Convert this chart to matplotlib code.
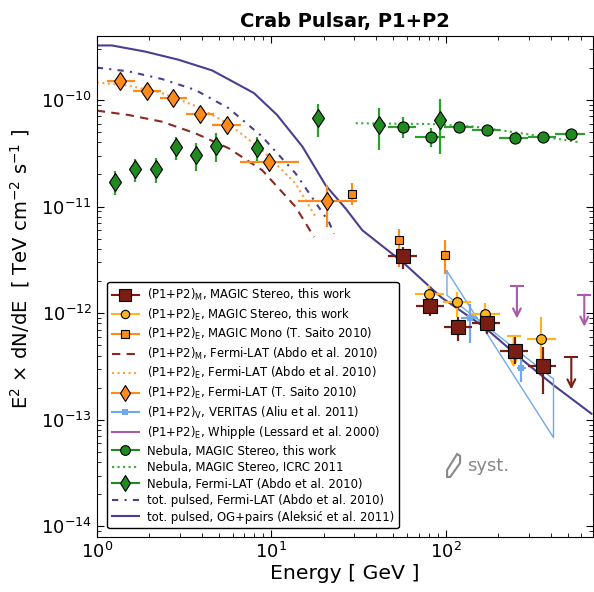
import numpy as np
import matplotlib
matplotlib.use('Agg')
import matplotlib.pyplot as plt
from matplotlib.lines import Line2D
from matplotlib.patches import Polygon

# --- (P1+P2)_M, MAGIC Stereo, this work
m_e = [56.6, 81.5, 118, 172, 248, 359]
m_elo = [46.5, 67.4, 98.3, 142, 205, 298]
m_ehi = [68.4, 98.3, 142, 206, 298, 430]
m_f = [3.40e-12, 1.17e-12, 7.43e-13, 8.16e-13, 4.45e-13, 3.21e-13]
m_flo = [2.61e-12, 9.48e-13, 5.52e-13, 6.38e-13, 3.33e-13, 1.74e-13]
m_fhi = [4.17e-12, 1.41e-12, 9.29e-13, 1.02e-12, 5.93e-13, 4.78e-13]
m_ul_e = [525]
m_ul_f = [3.85e-13]

# --- (P1+P2)_E, MAGIC Stereo, this work
e_e = [80.2, 116, 168, 354]
e_elo = [66.6, 96.1, 139, 293]
e_ehi = [97.4, 140, 206, 430]
e_f = [1.52e-12, 1.27e-12, 9.85e-13, 5.69e-13]
e_flo = [1.27e-12, 9.16e-13, 8.51e-13, 3.58e-13]
e_fhi = [1.82e-12, 1.57e-12, 1.24e-12, 9.16e-13]
e_ul_e = [245]
e_ul_f = [6.15e-13]

# --- (P1+P2)_E, MAGIC Mono (T. Saito 2010)
mono_e = [29.2, 54.1, 99.5]
mono_f = [1.32e-11, 4.9e-12, 3.53e-12]
mono_flo = [1.03e-11, 2.7e-12, 2.35e-12]
mono_fhi = [1.65e-11, 6.2e-12, 4.82e-12]

# --- (P1+P2)_E, Fermi-LAT (T. Saito 2010)
s_e = [1.36, 1.94, 2.73, 3.89, 5.54, 9.65, 20.9]
s_elo = [1.14, 1.62, 2.31, 3.26, 4.6, 6.6, 14.2]
s_ehi = [1.65, 2.33, 3.29, 4.68, 6.7, 14.4, 31.1]
s_f = [1.49e-10, 1.22e-10, 1.04e-10, 7.4e-11, 5.86e-11, 2.61e-11, 1.12e-11]
s_flo = [1.40e-10, 1.15e-10, 0.97e-10, 6.9e-11, 5.4e-11, 2.19e-11, 6.45e-12]
s_fhi = [1.58e-10, 1.30e-10, 1.11e-10, 7.9e-11, 6.3e-11, 2.93e-11, 1.59e-11]

# --- (P1+P2)_V, VERITAS (Aliu et al. 2011)
v_e = [137, 172, 271]
v_elo = [122, 155, 255]
v_ehi = [153, 190, 290]
v_f = [9.03e-13, 8.6e-13, 3.05e-13]
v_flo = [5.21e-13, 7.2e-13, 2.24e-13]
v_fhi = [1.22e-12, 1.0e-12, 3.71e-13]
bow_e = [101.7, 415, 415, 101.7, 101.7]
bow_f = [2.48e-12, 6.8e-14, 2.41e-13, 1.47e-12, 2.48e-12]

# --- (P1+P2)_E, Whipple (Lessard et al. 2000) upper limits
wh_e = [256, 623]
wh_f = [1.78e-12, 1.49e-12]

# --- Nebula, MAGIC Stereo, this work
nm_e = [56.9, 82.4, 119, 172, 249, 361, 523]
nm_elo = [46.5, 66.6, 98, 141, 202, 295, 426]
nm_ehi = [67.6, 99, 143, 206, 295, 430, 625]
nm_f = [5.61e-11, 4.49e-11, 5.61e-11, 5.22e-11, 4.41e-11, 4.51e-11, 4.79e-11]
nm_flo = [4.4e-11, 3.6e-11, 5.2e-11, 4.95e-11, 4.2e-11, 4.3e-11, 4.55e-11]
nm_fhi = [6.9e-11, 5.4e-11, 6.0e-11, 5.5e-11, 4.6e-11, 4.7e-11, 5.0e-11]

# --- Nebula, MAGIC Stereo, ICRC 2011
icrc_e = [30.5, 82.3, 146, 258, 584]
icrc_f = [6.04e-11, 5.94e-11, 5.61e-11, 4.93e-11, 4.0e-11]

# --- Nebula, Fermi-LAT (Abdo et al. 2010)
nf_e = [1.27, 1.66, 2.17, 2.83, 3.71, 4.83, 8.27, 18.5, 41.5, 92.3]
nf_f = [1.69e-11, 2.23e-11, 2.23e-11, 3.59e-11, 3.02e-11, 3.71e-11, 3.51e-11,
        6.73e-11, 5.82e-11, 6.49e-11]
nf_flo = [1.28e-11, 1.69e-11, 1.67e-11, 2.73e-11, 2.16e-11, 2.59e-11, 2.54e-11,
          4.46e-11, 3.39e-11, 3.08e-11]
nf_fhi = [2.15e-11, 2.77e-11, 2.86e-11, 4.46e-11, 3.92e-11, 4.86e-11, 4.46e-11,
          9.17e-11, 8.35e-11, 1.02e-10]

# --- Fermi-LAT model curves (Abdo et al. 2010)
fm_e = [1.0, 1.52, 2.36, 3.67, 5.70, 8.87, 13.8, 17.6]
fm_f = [7.93e-11, 7.22e-11, 6.25e-11, 4.86e-11, 3.52e-11, 2.19e-11, 9.91e-12, 5.17e-12]
fe_e = [1.0, 1.52, 2.36, 3.67, 5.70, 8.87, 13.8, 18.0]
fe_f = [1.46e-10, 1.36e-10, 1.16e-10, 8.78e-11, 5.95e-11, 3.38e-11, 1.64e-11, 7.97e-12]
ftot_e = [1.0, 1.52, 2.36, 3.67, 5.70, 8.87, 13.8, 21.4, 22.9]
ftot_f = [2.01e-10, 1.85e-10, 1.57e-10, 1.24e-10, 8.35e-11, 4.52e-11, 2.04e-11,
          7.16e-12, 5.57e-12]

# --- tot. pulsed, OG+pairs (Aleksic et al. 2011)
og_e = [1.0, 1.22, 1.89, 2.94, 4.58, 7.95, 10.8, 15.1, 20.5, 26.7, 33.3, 56.7,
        94.1, 167, 271, 420, 685]
og_f = [3.24e-10, 3.24e-10, 2.84e-10, 2.38e-10, 1.89e-10, 1.16e-10, 7.22e-11,
        3.64e-11, 1.58e-11, 9.57e-12, 5.98e-12, 3.01e-12, 1.41e-12, 7.37e-13,
        3.71e-13, 2.08e-13, 1.14e-13]

x_ticks = [1, 10, 100]
y_ticks = [1e-14, 1e-13, 1e-12, 1e-11, 1e-10]

C_M = '#7a1d14'
C_E = '#ffb31f'
C_MONO = '#ff8a1c'
C_FE = '#ff9c40'
C_V = '#6fa8ec'
C_WH = '#a95aa8'
C_NEB = '#1f8a1f'
C_NEBL = '#2e9e2e'
C_TOT = '#4a3e8e'


def err(v, lo, hi):
    v, lo, hi = np.asarray(v), np.asarray(lo), np.asarray(hi)
    return [v - lo, hi - v]


def upper_limit(ax, e, f, color):
    for x, y in zip(e, f):
        ax.annotate('', xy=(x, y * 0.5), xytext=(x, y),
                    arrowprops=dict(arrowstyle='->', color=color, lw=1.5,
                                    mutation_scale=14, shrinkA=0, shrinkB=0))
        ax.plot([x], [y], marker='_', ms=10, mew=1.5, color=color)


fig = plt.figure(figsize=(5.94, 5.92), dpi=100)
ax = fig.add_axes([0.163, 0.0934, 0.8355, 0.8463])
ax.set_xscale('log')
ax.set_yscale('log')

# model curves
ax.plot(og_e, og_f, '-', color=C_TOT, lw=1.5, zorder=2)
ax.plot(ftot_e, ftot_f, color=C_TOT, lw=1.5, dashes=(3, 3, 1, 3), zorder=2)
ax.plot(fm_e, fm_f, '--', color='#8b2a20', lw=1.5, dashes=(4, 3), zorder=2)
ax.plot(fe_e, fe_f, ':', color=C_FE, lw=1.5, zorder=2)
ax.plot(icrc_e, icrc_f, ':', color='#3aa83a', lw=1.5, zorder=2)

# VERITAS bow-tie
ax.plot(bow_e, bow_f, '-', color=C_V, lw=1.0, zorder=2)

ebkw = dict(capsize=0, elinewidth=1.6, lw=0, markeredgecolor='black',
            markeredgewidth=0.8, zorder=4)

ax.errorbar(nf_e, nf_f, yerr=err(nf_f, nf_flo, nf_fhi), fmt='d', ms=9.5,
            color=C_NEB, ecolor=C_NEBL, **ebkw)
ax.errorbar(nm_e, nm_f, xerr=err(nm_e, nm_elo, nm_ehi),
            yerr=err(nm_f, nm_flo, nm_fhi), fmt='o', ms=8,
            color=C_NEB, ecolor=C_NEBL, **ebkw)
ax.errorbar(s_e, s_f, xerr=err(s_e, s_elo, s_ehi),
            yerr=err(s_f, s_flo, s_fhi), fmt='d', ms=9.5,
            color=C_MONO, ecolor=C_MONO, **ebkw)
ax.errorbar(mono_e, mono_f, yerr=err(mono_f, mono_flo, mono_fhi), fmt='s',
            ms=6, color=C_MONO, ecolor=C_MONO, **ebkw)
ax.errorbar(v_e, v_f, xerr=err(v_e, v_elo, v_ehi),
            yerr=err(v_f, v_flo, v_fhi), fmt='s', ms=4, color=C_V,
            ecolor=C_V, capsize=0, elinewidth=1.6, lw=0, mew=0, zorder=3)
ax.errorbar(e_e, e_f, xerr=err(e_e, e_elo, e_ehi),
            yerr=err(e_f, e_flo, e_fhi), fmt='o', ms=7,
            color=C_E, ecolor=C_E, **ebkw)
ax.errorbar(m_e, m_f, xerr=err(m_e, m_elo, m_ehi),
            yerr=err(m_f, m_flo, m_fhi), fmt='s', ms=10,
            color=C_M, ecolor=C_M, **ebkw)

upper_limit(ax, wh_e, wh_f, C_WH)
upper_limit(ax, m_ul_e, m_ul_f, C_M)
upper_limit(ax, e_ul_e, e_ul_f, C_E)

# systematics marker
syst_px = [(447, 477), (447, 470), (457, 454), (460, 456), (460, 463), (450, 477)]
syst = [((x - 96.7) / 496.3, (536.7 - y) / 501.0) for x, y in syst_px]
ax.add_patch(Polygon(syst, closed=True, fill=False, edgecolor='#888888',
                     lw=1.5, transform=ax.transAxes))
ax.text(0.746, 0.141, 'syst.', transform=ax.transAxes, color='#888888',
        fontsize=13, va='center', ha='left')

ax.set_xticks(x_ticks)
ax.set_yticks(y_ticks)
ax.set_xlim(1, 700)
ax.set_ylim(8e-15, 4e-10)
ax.tick_params(which='both', direction='in', top=True, right=True,
               labelsize=13)
ax.tick_params(which='major', length=5)
ax.tick_params(which='minor', length=3)
ax.set_xlabel('Energy [ GeV ]', fontsize=14.7, labelpad=2)
ax.set_ylabel(r'E$^2$ $\times$ dN/dE  [ TeV cm$^{-2}$ s$^{-1}$ ]', fontsize=14)
ax.yaxis.set_label_coords(-0.13, 0.534)
ax.set_title('Crab Pulsar, P1+P2', fontsize=14, fontweight='bold', pad=6)

handles = [
    Line2D([], [], color=C_M, marker='s', ms=8, mec='black', mew=0.8, lw=1.5),
    Line2D([], [], color=C_E, marker='o', ms=6, mec='black', mew=0.8, lw=1.5),
    Line2D([], [], color=C_MONO, marker='s', ms=6, mec='black', mew=0.8, lw=1.5),
    Line2D([], [], color='#8b2a20', ls='--', dashes=(4, 3), lw=1.5),
    Line2D([], [], color=C_FE, ls=':', lw=1.5),
    Line2D([], [], color=C_MONO, marker='d', ms=8, mec='black', mew=0.8, lw=1.5),
    Line2D([], [], color=C_V, marker='s', ms=4, mew=0, lw=1.5),
    Line2D([], [], color=C_WH, lw=1.5),
    Line2D([], [], color=C_NEB, marker='o', ms=7, mec='black', mew=0.8, lw=1.5),
    Line2D([], [], color='#3aa83a', ls=':', lw=1.5),
    Line2D([], [], color=C_NEB, marker='d', ms=8, mec='black', mew=0.8, lw=1.5),
    Line2D([], [], color=C_TOT, dashes=(3, 3, 1, 3), lw=1.5),
    Line2D([], [], color=C_TOT, lw=1.5),
]
labels = [
    r'(P1+P2)$_{\rm M}$, MAGIC Stereo, this work',
    r'(P1+P2)$_{\rm E}$, MAGIC Stereo, this work',
    r'(P1+P2)$_{\rm E}$, MAGIC Mono (T. Saito 2010)',
    r'(P1+P2)$_{\rm M}$, Fermi-LAT (Abdo et al. 2010)',
    r'(P1+P2)$_{\rm E}$, Fermi-LAT (Abdo et al. 2010)',
    r'(P1+P2)$_{\rm E}$, Fermi-LAT (T. Saito 2010)',
    r'(P1+P2)$_{\rm V}$, VERITAS (Aliu et al. 2011)',
    r'(P1+P2)$_{\rm E}$, Whipple (Lessard et al. 2000)',
    'Nebula, MAGIC Stereo, this work',
    'Nebula, MAGIC Stereo, ICRC 2011',
    'Nebula, Fermi-LAT (Abdo et al. 2010)',
    'tot. pulsed, Fermi-LAT (Abdo et al. 2010)',
    'tot. pulsed, OG+pairs (Aleksić et al. 2011)',
]
leg = ax.legend(handles, labels, loc='lower left', bbox_to_anchor=(0.021, 0.017),
                borderaxespad=0, fontsize=8.4, handlelength=2.3,
                labelspacing=0.30, framealpha=1, edgecolor='black',
                fancybox=True, handletextpad=0.7)
leg.get_frame().set_linewidth(1.0)

plt.savefig('out.png', dpi=100)
